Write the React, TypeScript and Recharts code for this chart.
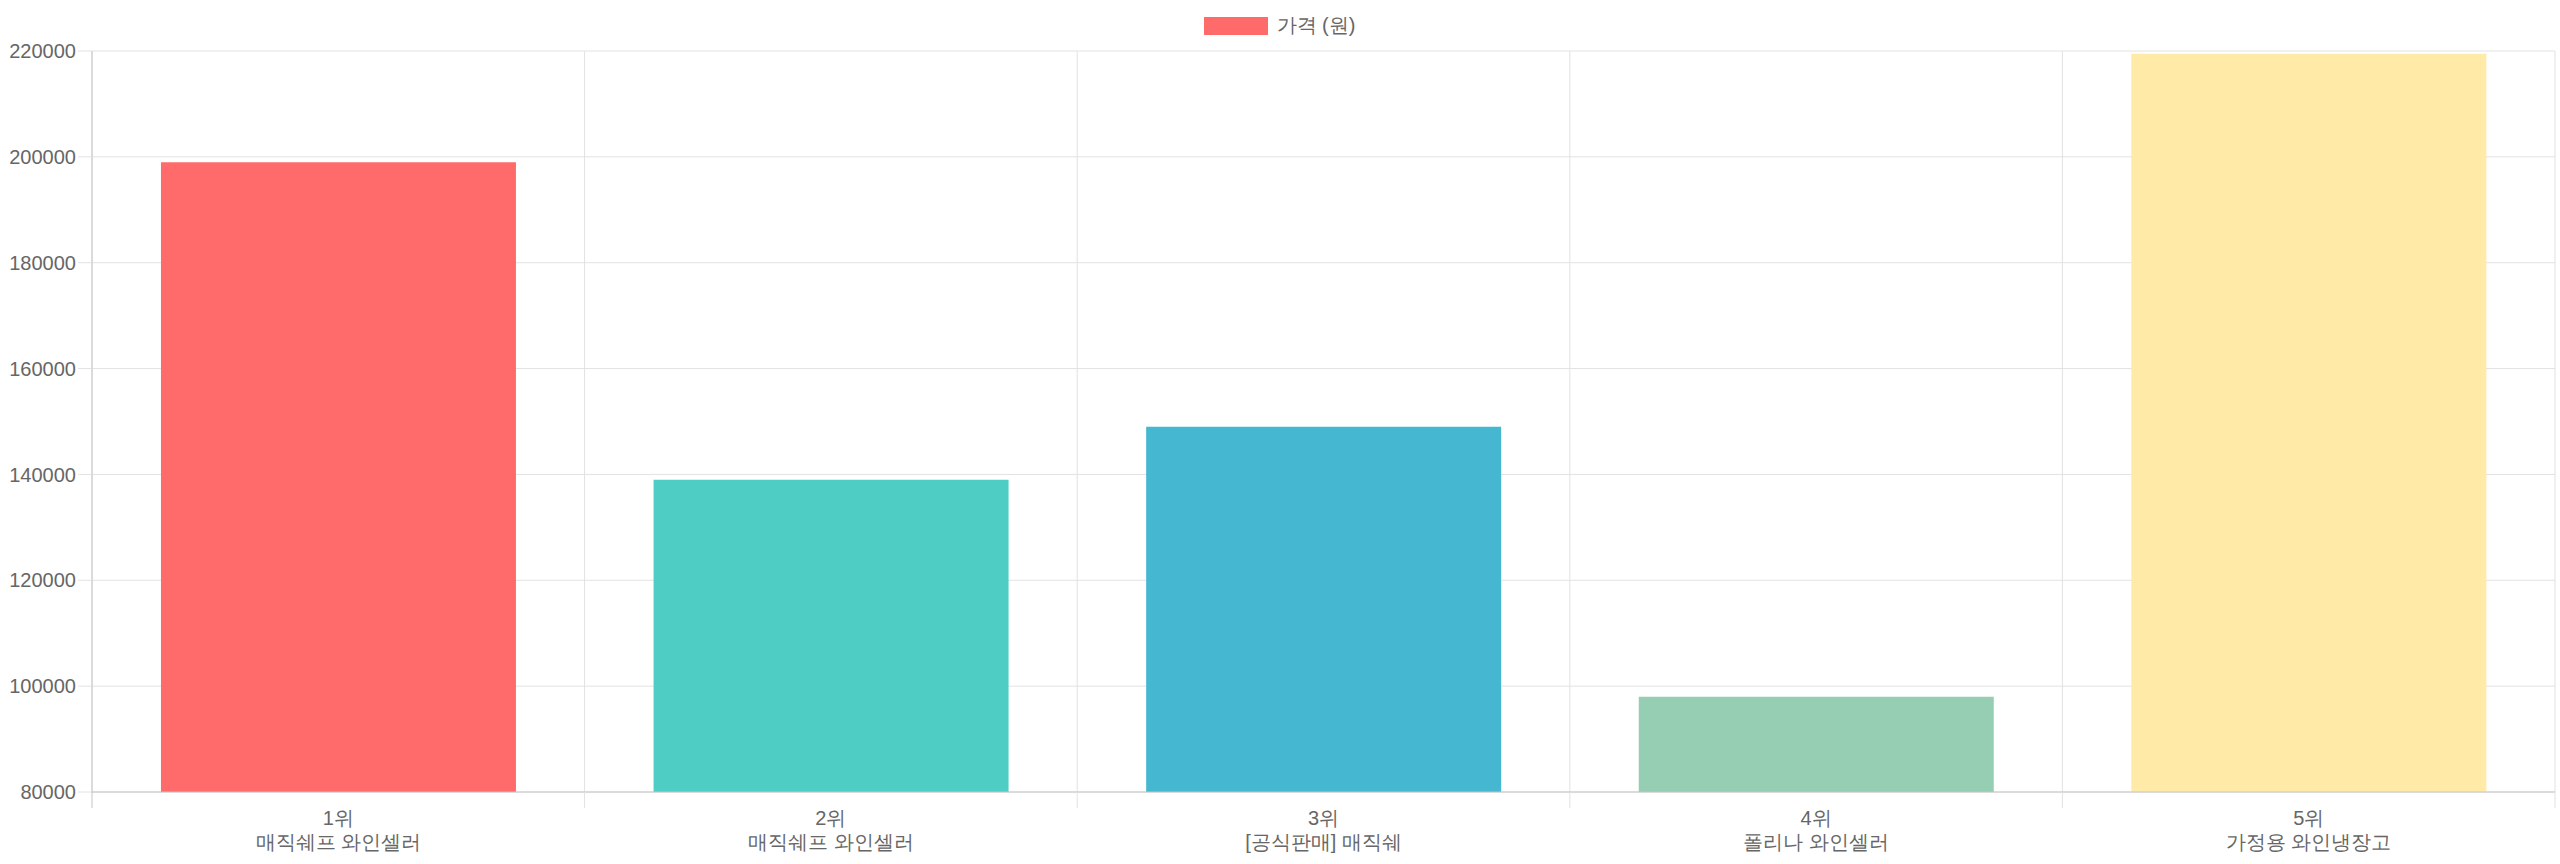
import React from "react";
import {
  BarChart,
  Bar,
  XAxis,
  YAxis,
  CartesianGrid,
  Legend,
  Cell,
} from "recharts";

const ranks = ["1위", "2위", "3위", "4위", "5위"];
const products = [
  "매직쉐프 와인셀러",
  "매직쉐프 와인셀러",
  "[공식판매] 매직쉐",
  "폴리나 와인셀러",
  "가정용 와인냉장고",
];
const prices = [199000, 139000, 149000, 98000, 219500];
const barColors = ["#FF6B6B", "#4ECDC4", "#45B7D1", "#96CEB4", "#FFEAA7"];
const yTicks = [80000, 100000, 120000, 140000, 160000, 180000, 200000, 220000];
const seriesName = "가격 (원)";

const data = ranks.map((rank, i) => ({
  rank,
  product: products[i],
  price: prices[i],
}));

const FONT = '"Helvetica Neue", Helvetica, Arial, sans-serif';
const TEXT = "#666666";
const GRID = "#e2e2e2";
const AXIS = "#c4c4c4";

const LegendContent = () => (
  <div
    style={{
      height: 51,
      display: "flex",
      alignItems: "center",
      justifyContent: "center",
      fontFamily: FONT,
      fontSize: 20,
      color: TEXT,
    }}
  >
    <span
      style={{
        display: "inline-block",
        width: 64,
        height: 18,
        background: barColors[0],
        marginLeft: 4,
        marginRight: 9,
      }}
    />
    <span>{seriesName}</span>
  </div>
);

const CategoryTick = (props: any) => {
  const { x, y, payload, index, visibleTicksCount, width } = props;
  const half =
    payload && payload.offset ? payload.offset : width / visibleTicksCount / 2;
  const row = data[index];
  return (
    <g>
      <line
        x1={x - half}
        x2={x - half}
        y1={y}
        y2={y + 16}
        stroke={index === 0 ? AXIS : GRID}
      />
      {index === visibleTicksCount - 1 && (
        <line x1={x + half} x2={x + half} y1={y} y2={y + 16} stroke={GRID} />
      )}
      <text
        x={x}
        y={y}
        textAnchor="middle"
        fill={TEXT}
        fontSize={20}
        fontFamily={FONT}
      >
        <tspan x={x} dy={33}>
          {row ? row.rank : payload.value}
        </tspan>
        <tspan x={x} dy={24}>
          {row ? row.product : ""}
        </tspan>
      </text>
    </g>
  );
};

export default function App() {
  return (
    <div style={{ width: 2560, height: 864, background: "#fff" }}>
      <style>{`body{margin:0}`}</style>
      <BarChart
        width={2560}
        height={864}
        data={data}
        margin={{ top: 0, right: 5, bottom: 0, left: 0 }}
        barCategoryGap="14%"
      >
        <CartesianGrid
          stroke={GRID}
          verticalCoordinatesGenerator={({ offset }: any) =>
            data
              .map((_, i) => offset.left + (i * offset.width) / data.length)
              .concat(offset.left + offset.width)
          }
        />
        <Legend verticalAlign="top" align="center" content={<LegendContent />} />
        <XAxis
          dataKey="rank"
          height={72}
          interval={0}
          tickLine={false}
          tickSize={0}
          tickMargin={0}
          axisLine={{ stroke: AXIS }}
          tick={<CategoryTick />}
        />
        <YAxis
          width={92}
          domain={[80000, 220000]}
          ticks={yTicks}
          allowDataOverflow
          axisLine={{ stroke: AXIS }}
          tickLine={{ stroke: GRID }}
          tickSize={14}
          tickMargin={2}
          tick={{ fill: TEXT, fontSize: 20, fontFamily: FONT }}
        />
        <Bar dataKey="price" name={seriesName} isAnimationActive={false}>
          {data.map((_, i) => (
            <Cell key={`cell-${i}`} fill={barColors[i]} />
          ))}
        </Bar>
      </BarChart>
    </div>
  );
}
